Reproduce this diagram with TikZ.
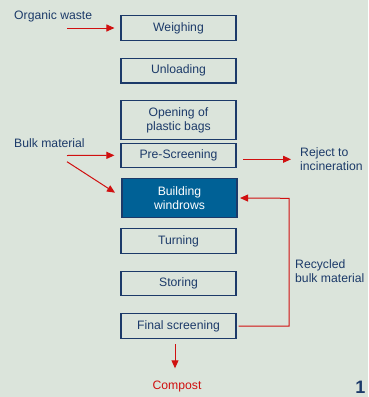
\documentclass[tikz,border=0pt]{standalone}
\usepackage{fontspec}
\setmainfont{Liberation Sans}
\usetikzlibrary{arrows.meta}
\definecolor{bgc}{RGB}{219,228,219}
\definecolor{navy}{RGB}{28,58,105}
\definecolor{boxfill}{RGB}{0,97,150}
\definecolor{arrred}{RGB}{208,16,16}
\begin{document}
\begin{tikzpicture}[x=1pt,y=-1pt,
  every node/.style={font=\fontsize{12.2}{14}\selectfont, text=navy, inner sep=0pt},
  stepbox/.style={draw=navy, line width=1.1pt, minimum width=115pt, align=center},
  filledbox/.style={stepbox, fill=boxfill, text=white},
  lbl/.style={align=left, anchor=west},
  redarrow/.style={draw=arrred, line width=1pt, -{Triangle[length=8pt,width=7pt]}}]
\clip (0,0) rectangle (368,397);
\fill[bgc] (0,0) rectangle (368,397);
\useasboundingbox (0,0) rectangle (368,397);

% boxes
\node[stepbox, minimum height=25pt] (w) at (178.5,28) {Weighing};
\node[stepbox, minimum height=24.5pt] (u) at (178.5,70.7) {Unloading};
\node[stepbox, minimum height=39pt] (o) at (178.5,120) {Opening of\\plastic bags};
\node[stepbox, minimum height=24pt] (p) at (178.5,155.3) {Pre-Screening};
\node[filledbox, minimum height=39pt] (b) at (179.5,198) {Building\\windrows};
\node[stepbox, minimum height=24.5pt] (t) at (178.5,241) {Turning};
\node[stepbox, minimum height=24pt] (s) at (178.5,283.7) {Storing};
\node[stepbox, minimum height=24.5pt] (f) at (178.5,326) {Final screening};

% labels
\node[lbl] (owl) at (14,16) {Organic waste};
\node[lbl] (bml) at (14,143.3) {Bulk material};
\node[lbl] (rej) at (300,159) {Reject to\\incineration};
\node[lbl] (rec) at (295,270.7) {Recycled\\bulk material};
\node[text=arrred] (comp) at (177,387) {Compost};
\node[font=\fontsize{18}{21}\selectfont\bfseries, anchor=base] (one) at (360.3,393.5) {1};

% coordinates
\coordinate (owa) at (67,28);
\coordinate (bma) at (67,155.5);
\coordinate (bmb) at (67,161.7);
\coordinate (bmt) at (115,192.7);
\coordinate (ra) at (243.3,159.3);
\coordinate (rb) at (291,159.3);
\coordinate (rc1) at (289,326);
\coordinate (rc2) at (289,198.3);
\coordinate (ca) at (175,344.3);
\coordinate (cb) at (175,368.3);

% connectors
\draw[redarrow, shorten >=6pt] (owa) -- (w.west);
\draw[redarrow, shorten >=6pt] (bma) -- (p.west);
\draw[redarrow] (bmb) -- (bmt);
\draw[redarrow] (ra) -- (rb);
\draw[redarrow] ([xshift=2pt]f.east) -- (rc1) -- (rc2) -- ([xshift=2.5pt]b.east);
\draw[redarrow] (ca) -- (cb);
\end{tikzpicture}
\end{document}
